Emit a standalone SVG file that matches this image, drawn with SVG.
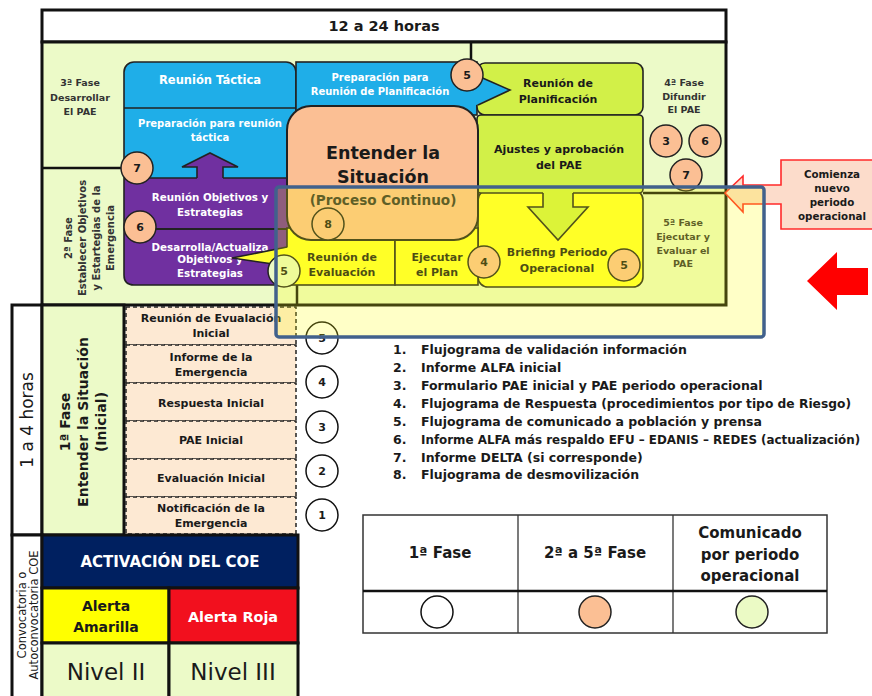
<svg xmlns="http://www.w3.org/2000/svg" width="872" height="696" viewBox="0 0 872 696">
<style>
text { font-family: "DejaVu Sans", "Liberation Sans", sans-serif; font-weight: bold; text-anchor: middle; fill: #1a1a1a; }
.w { fill: #ffffff; }
.g3 { fill: #333333; }
.nb { font-weight: normal; }
.st { text-anchor: start; }
.frame { stroke: #111111; stroke-width: 3; }
.box { stroke: #222222; stroke-width: 1.6; }
.dash { fill: #FDE9D3; stroke: #222222; stroke-width: 1.5; stroke-dasharray: 4 3; }
.cp { fill: #FBBF94; stroke: #222222; stroke-width: 1.5; }
.cw { fill: #ffffff; stroke: #111111; stroke-width: 1.5; }
.cg { fill: #EBFAC5; stroke: #222222; stroke-width: 1.5; }
.edge { fill: none; stroke: #222222; stroke-width: 1.6; }
</style>

<g id="header">
<rect x="42" y="10" width="684" height="32" fill="#ffffff" class="frame"/>
<text x="384" y="31" font-size="14.5">12 a 24 horas</text>
</g>

<g id="main-area">
<rect x="42" y="42" width="684" height="263" fill="#ECFAC8" class="frame"/>
<path d="M42 168H124 M471 42V62 M643 193H726 M297 285V305" stroke="#111111" stroke-width="2.5" fill="none"/>
</g>

<g id="fase3-label">
<text x="80" y="85.5" font-size="9.5" class="g3">3ª Fase</text>
<text x="80" y="100.5" font-size="9.5" class="g3">Desarrollar</text>
<text x="80" y="114.5" font-size="9.5" class="g3">El PAE</text>
</g>

<g id="fase2-label" transform="translate(0,238) rotate(-90)">
<text x="0" y="71.5" font-size="10" class="g3">2ª Fase</text>
<text x="0" y="85.5" font-size="10" class="g3">Establecer Objetivos</text>
<text x="0" y="99.5" font-size="10" class="g3">y Estartegias de la</text>
<text x="0" y="113.5" font-size="10" class="g3">Emergencia</text>
</g>

<g id="reunion-tactica">
<rect x="124" y="62" width="172" height="122" rx="10" fill="#1FAEE8" class="box"/>
<line x1="124" y1="108" x2="296" y2="108" stroke="#222222" stroke-width="1.6"/>
<text x="210" y="84" font-size="11.5" class="w">Reunión Táctica</text>
<text x="210" y="126.5" font-size="10" class="w">Preparación para reunión</text>
<text x="210" y="140.5" font-size="10" class="w">táctica</text>
</g>

<g id="preparacion-planificacion">
<rect x="296" y="62" width="181" height="53" fill="#1FAEE8" class="box"/>
<text x="380" y="80.5" font-size="10" class="w">Preparación para</text>
<text x="380" y="94.5" font-size="10" class="w">Reunión de Planificación</text>
</g>

<g id="objetivos">
<path d="M124 178H290V285H134Q124 285 124 275Z" fill="#7030A0" class="box"/>
<line x1="124" y1="229" x2="289" y2="229" stroke="#222222" stroke-width="1.8"/>
<text x="210" y="200.5" font-size="10.3" class="w">Reunión Objetivos y</text>
<text x="210" y="215.5" font-size="10.3" class="w">Estrategias</text>
<text x="210" y="250.5" font-size="10.3" class="w">Desarrolla/Actualiza</text>
<text x="210" y="263" font-size="10.3" class="w">Objetivos y</text>
<text x="210" y="276.5" font-size="10.3" class="w">Estrategias</text>
</g>

<g id="briefing">
<rect x="478" y="190" width="165" height="97" rx="10" fill="#FFFF33" class="box"/>
<text x="557" y="256" font-size="11">Briefing Periodo</text>
<text x="557" y="272" font-size="11">Operacional</text>
</g>

<g id="reunion-planificacion">
<rect x="477" y="63" width="166" height="52" rx="8" fill="#D2F048" class="box"/>
<text x="558" y="87" font-size="11">Reunión de</text>
<text x="558" y="103" font-size="11">Planificación</text>
</g>

<g id="ajustes">
<rect x="477" y="115" width="166" height="78" rx="4" fill="#D2F048" class="box"/>
<text x="559" y="153" font-size="11">Ajustes y aprobación</text>
<text x="559" y="169" font-size="11">del PAE</text>
</g>

<g id="reunion-evaluacion">
<rect x="287" y="228" width="108" height="57" fill="#FFFF33" class="box"/>
<text x="342" y="261" font-size="11">Reunión de</text>
<text x="342" y="276" font-size="11">Evaluación</text>
</g>

<g id="ejecutar">
<rect x="395" y="228" width="83" height="57" fill="#FFFF33" class="box"/>
<text x="437" y="261" font-size="11">Ejecutar</text>
<text x="437" y="276" font-size="11">el Plan</text>
</g>

<g id="entender">
<rect x="287" y="106" width="191" height="134" rx="24" fill="#FBBF94" stroke="#222222" stroke-width="2"/>
<text x="383" y="159" font-size="17.5">Entender la</text>
<text x="383" y="183" font-size="17.5">Situación</text>
<text x="383" y="205" font-size="13.6" class="g3">(Proceso Continuo)</text>
</g>

<g id="connectors">
<path d="M197 180V167H182L210 153L238 167H223V180Z" fill="#7030A0"/>
<path d="M197 178V167H182L210 153L238 167H223V178" class="edge"/>
<path d="M543 192V207H528L558 240L588 207H573V192Z" fill="#D2F048"/>
<path d="M543 193V207H528L558 240L588 207H573V193" class="edge"/>
<path d="M474 74L510 90L474 106Z" fill="#1FAEE8"/>
<path d="M478 76L510 90L478 105" class="edge"/>
<path d="M300 245L232 258L300 268Z" fill="#FFFF33"/>
<path d="M287 247L232 258L287 266" class="edge"/>
</g>

<g id="fase4-label">
<text x="684" y="85.5" font-size="9.5" class="g3">4ª Fase</text>
<text x="684" y="99.5" font-size="9.5" class="g3">Difundir</text>
<text x="684" y="112.5" font-size="9.5" class="g3">El PAE</text>
</g>

<g id="fase5-label">
<text x="683" y="225.5" font-size="9.5" class="g3">5ª Fase</text>
<text x="683" y="239.5" font-size="9.5" class="g3">Ejecutar y</text>
<text x="683" y="253.5" font-size="9.5" class="g3">Evaluar el</text>
<text x="683" y="266.5" font-size="9.5" class="g3">PAE</text>
</g>

<g id="markers-upper">
<circle cx="467" cy="75" r="16" class="cp"/><text x="467" y="79" font-size="11">5</text>
<circle cx="137" cy="168" r="16" class="cp"/><text x="137" y="172" font-size="11">7</text>
<circle cx="140" cy="227" r="16" class="cp"/><text x="140" y="231" font-size="11">6</text>
<circle cx="328" cy="224" r="16" class="cp"/><text x="328" y="228" font-size="11">8</text>
<circle cx="484" cy="262" r="16" class="cp"/><text x="484" y="266" font-size="11">4</text>
<circle cx="624" cy="265" r="16" class="cp"/><text x="624" y="269" font-size="11">5</text>
<circle cx="666" cy="141" r="16" class="cp"/><text x="666" y="145" font-size="11">3</text>
<circle cx="705" cy="141" r="16" class="cp"/><text x="705" y="145" font-size="11">6</text>
<circle cx="686" cy="175" r="16" class="cp"/><text x="686" y="179" font-size="11">7</text>
<circle cx="284" cy="271" r="16" class="cg"/><text x="284" y="275" font-size="11">5</text>
</g>

<g id="horas">
<rect x="12" y="305" width="30" height="230" fill="#ffffff" class="frame"/>
<text transform="translate(0,420) rotate(-90)" x="0" y="33" font-size="17" class="nb">1 a 4 horas</text>
</g>

<g id="fase1">
<rect x="42" y="305" width="82" height="230" fill="#ECFAC8" class="frame"/>
<g transform="translate(0,422) rotate(-90)">
<text x="0" y="70" font-size="14">1ª Fase</text>
<text x="0" y="88" font-size="14">Entender la Situación</text>
<text x="0" y="106" font-size="14">(Inicial)</text>
</g>
</g>

<g id="fase1-steps">
<rect x="126" y="307" width="170" height="38" class="dash"/>
<rect x="126" y="345" width="170" height="38" class="dash"/>
<rect x="126" y="383" width="170" height="38" class="dash"/>
<rect x="126" y="421" width="170" height="38" class="dash"/>
<rect x="126" y="459" width="170" height="38" class="dash"/>
<rect x="126" y="497" width="170" height="37" class="dash"/>
<text x="211" y="322" font-size="11">Reunión de Evualación</text>
<text x="211" y="337" font-size="11">Inicial</text>
<text x="211" y="361" font-size="11">Informe de la</text>
<text x="211" y="376" font-size="11">Emergencia</text>
<text x="211" y="407" font-size="11">Respuesta Inicial</text>
<text x="211" y="444" font-size="11">PAE Inicial</text>
<text x="211" y="482" font-size="11">Evaluación Inicial</text>
<text x="211" y="512" font-size="11">Notificación de la</text>
<text x="211" y="527" font-size="11">Emergencia</text>
</g>

<g id="markers-fase1">
<circle cx="322" cy="338" r="16" class="cw"/><text x="322" y="342" font-size="11">5</text>
<circle cx="322" cy="382" r="16" class="cw"/><text x="322" y="386" font-size="11">4</text>
<circle cx="322" cy="427" r="16" class="cw"/><text x="322" y="431" font-size="11">3</text>
<circle cx="322" cy="471" r="16" class="cw"/><text x="322" y="475" font-size="11">2</text>
<circle cx="322" cy="515" r="16" class="cw"/><text x="322" y="519" font-size="11">1</text>
</g>

<g id="convocatoria">
<rect x="12" y="535" width="30" height="164" fill="#ffffff" class="frame"/>
<g transform="translate(0,615) rotate(-90)">
<text x="0" y="26" font-size="11.5" class="nb">Convocatoria o</text>
<text x="0" y="38" font-size="11.5" class="nb">Autoconvocatoria COE</text>
</g>
</g>

<g id="activacion">
<rect x="42" y="535" width="256" height="53" fill="#002060" class="frame"/>
<text x="170" y="567" font-size="15" class="w">ACTIVACIÓN DEL COE</text>
</g>
<g id="alerta-amarilla">
<rect x="42" y="588" width="127" height="55" fill="#FFFF00" class="frame"/>
<text x="106" y="611" font-size="14">Alerta</text>
<text x="106" y="632" font-size="14">Amarilla</text>
</g>
<g id="alerta-roja">
<rect x="169" y="588" width="129" height="55" fill="#F2101E" class="frame"/>
<text x="233" y="622" font-size="14.4" class="w">Alerta Roja</text>
</g>
<g id="nivel-2">
<rect x="42" y="643" width="127" height="56" fill="#ECFAC8" class="frame"/>
<text x="106" y="680" font-size="23" class="nb">Nivel II</text>
</g>
<g id="nivel-3">
<rect x="169" y="643" width="129" height="56" fill="#ECFAC8" class="frame"/>
<text x="233" y="680" font-size="23" class="nb">Nivel III</text>
</g>

<g id="lista">
<text x="393" y="354.4" font-size="12.5" class="st">1.</text><text x="421" y="354.4" font-size="12.5" class="st">Flujograma de validación información</text>
<text x="393" y="372.3" font-size="12.5" class="st">2.</text><text x="421" y="372.3" font-size="12.5" class="st">Informe ALFA inicial</text>
<text x="393" y="390.1" font-size="12.5" class="st">3.</text><text x="421" y="390.1" font-size="12.5" class="st">Formulario PAE inicial y PAE periodo operacional</text>
<text x="393" y="408" font-size="12.5" class="st">4.</text><text x="421" y="408" font-size="12.5" class="st" textLength="430" lengthAdjust="spacingAndGlyphs">Flujograma de Respuesta (procedimientos por tipo de Riesgo)</text>
<text x="393" y="425.8" font-size="12.5" class="st">5.</text><text x="421" y="425.8" font-size="12.5" class="st">Flujograma de comunicado a población y prensa</text>
<text x="393" y="443.7" font-size="12.5" class="st">6.</text><text x="421" y="443.7" font-size="11.9" class="st">Informe ALFA más respaldo EFU – EDANIS – REDES (actualización)</text>
<text x="393" y="461.5" font-size="12.5" class="st">7.</text><text x="421" y="461.5" font-size="12.5" class="st">Informe DELTA (si corresponde)</text>
<text x="393" y="479.4" font-size="12.5" class="st">8.</text><text x="421" y="479.4" font-size="12.5" class="st">Flujograma de desmovilización</text>
</g>

<g id="leyenda">
<rect x="363" y="515" width="464" height="118" fill="#ffffff" stroke="#333333" stroke-width="1.5"/>
<line x1="518" y1="515" x2="518" y2="633" stroke="#333333" stroke-width="1.3"/>
<line x1="673" y1="515" x2="673" y2="633" stroke="#333333" stroke-width="1.3"/>
<line x1="363" y1="591" x2="827" y2="591" stroke="#111111" stroke-width="2.5"/>
<text x="440" y="558" font-size="15">1ª Fase</text>
<text x="595" y="558" font-size="15">2ª a 5ª Fase</text>
<text x="750" y="538" font-size="15">Comunicado</text>
<text x="750" y="560" font-size="15">por periodo</text>
<text x="750" y="581" font-size="15">operacional</text>
<circle cx="437" cy="612" r="16" class="cw"/>
<circle cx="595" cy="612" r="16" class="cp"/>
<circle cx="752" cy="612" r="16" class="cg"/>
</g>

<g id="comienza">
<path d="M781 160H876V229H781V204H743V212L725 193L743 176V185H781Z" fill="#FCDCCB" stroke="#FF2A2A" stroke-width="1.6"/>
<text x="832" y="177.5" font-size="10.3">Comienza</text>
<text x="832" y="191.5" font-size="10.3">nuevo</text>
<text x="832" y="205.5" font-size="10.3">periodo</text>
<text x="832" y="219.5" font-size="10.3">operacional</text>
</g>

<g id="flecha-roja">
<path d="M807 281L837 252V268H868V295H837V310Z" fill="#FF0000"/>
</g>

<g id="resaltado">
<rect x="276" y="187" width="488" height="150" rx="3" fill="#FFFF00" fill-opacity="0.22" stroke="#41618C" stroke-width="3.5"/>
</g>
</svg>
